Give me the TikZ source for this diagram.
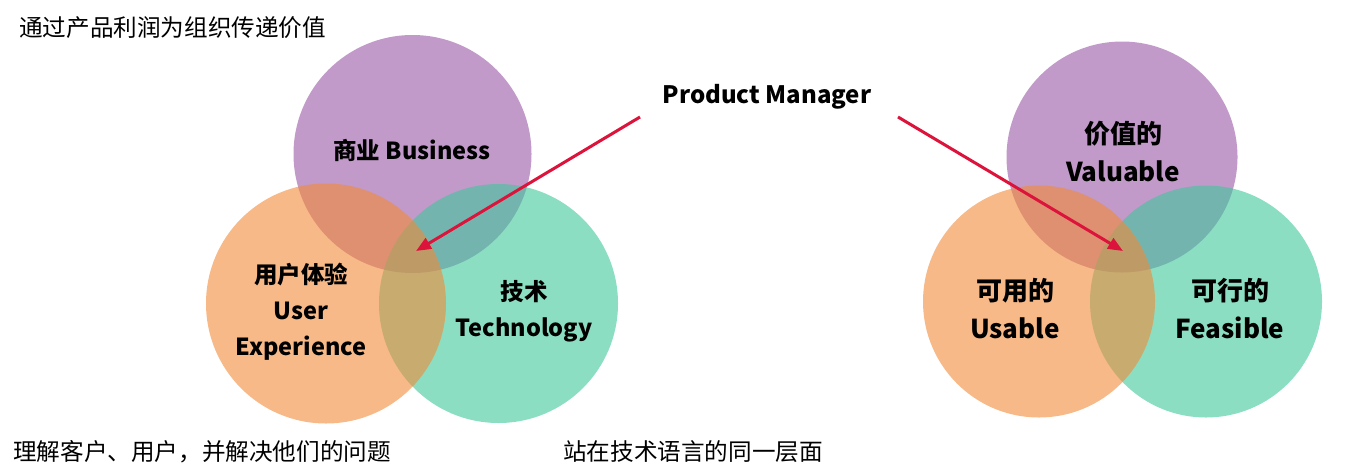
\documentclass[tikz,border=0pt]{standalone}
\usepackage{fontspec}
\setmainfont{Noto Sans CJK SC}
\usetikzlibrary{arrows.meta}
\definecolor{purp}{RGB}{152,86,166}
\definecolor{grn}{RGB}{63,200,155}
\definecolor{orng}{RGB}{242,138,55}
\definecolor{pmred}{RGB}{220,20,60}
\begin{document}
\begin{tikzpicture}[x=1pt,y=-1pt,
  venn/.style={circle, inner sep=0pt, fill opacity=0.6, draw=none},
  lbl/.style={font=\bfseries\fontsize{23.5}{36}\selectfont, align=center, text=black, inner sep=0pt},
  rlbl/.style={font=\bfseries\fontsize{26}{38}\selectfont, align=center, text=black, inner sep=0pt},
  note/.style={font=\fontsize{23.6}{27}\selectfont, anchor=west, inner sep=0pt},
  pmarrow/.style={draw=pmred, line width=3pt, -{Triangle[length=15pt,width=12pt]}},
  ]
\useasboundingbox (0,0) rectangle (1348,474);
% left Venn
\node[venn, fill=purp, minimum size=238pt] (biz) at (412.5,154) {};
\node[venn, fill=grn, minimum size=239pt] (tech) at (498.5,303.5) {};
\node[venn, fill=orng, minimum size=240pt] (ux) at (326,303.5) {};
% right Venn
\node[venn, fill=purp, minimum size=231pt] (val) at (1122,157) {};
\node[venn, fill=grn, minimum size=232pt] (fea) at (1206,301.5) {};
\node[venn, fill=orng, minimum size=232pt] (usa) at (1039,301.5) {};
% labels
\node[lbl] (bizl) at (412,150) {商业 Business};
\node[lbl] (uxl) at (301,312) {用户体验\\User\\Experience};
\node[lbl] (techl) at (524,311) {技术\\Technology};
\node[rlbl] (vall) at (1123,152) {价值的\\Valuable};
\node[rlbl] (usal) at (1015,309) {可用的\\Usable};
\node[rlbl] (feal) at (1230,309) {可行的\\Feasible};
\node[font=\bfseries\fontsize{24}{28}\selectfont, inner sep=0pt] (pm) at (767,97) {Product Manager};
% notes
\node[note] (n1) at (19,28) {通过产品利润为组织传递价值};
\node[note] (n2) at (13,452) {理解客户、用户，并解决他们的问题};
\node[note] (n3) at (563,452) {站在技术语言的同一层面};
% arrows
\coordinate (pmL) at (640,117);
\coordinate (pmR) at (898,117);
\coordinate (coreL) at (416,251);
\coordinate (coreR) at (1123,251);
\draw[pmarrow] (pmL) -- (coreL);
\draw[pmarrow] (pmR) -- (coreR);
\end{tikzpicture}
\end{document}
